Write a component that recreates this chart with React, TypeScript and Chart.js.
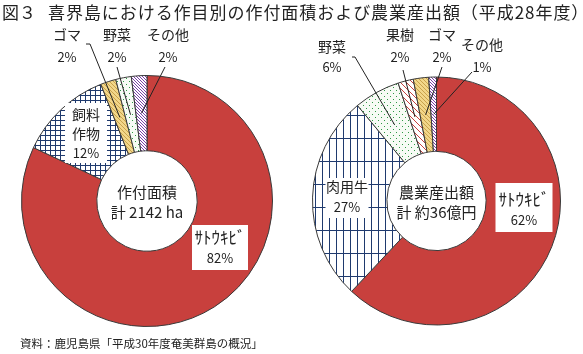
import React, { useEffect, useRef } from "react";
import { Chart, registerables } from "chart.js";
Chart.register(...registerables);

// ---------- data ----------
const TITLE_FIG = "図３";
const TITLE = "喜界島における作目別の作付面積および農業産出額（平成28年度）";
const SOURCE = "資料：鹿児島県「平成30年度奄美群島の概況」";

const areaCategories = ["ｻﾄｳｷﾋﾞ", "飼料作物", "ゴマ", "野菜", "その他"];
const areaLabelLines = [["ｻﾄｳｷﾋﾞ"], ["飼料", "作物"], ["ゴマ"], ["野菜"], ["その他"]];
const areaValues = [82, 12, 2, 2, 2];
const areaCenterText = ["作付面積", "計 2142 ha"];

const outputCategories = ["ｻﾄｳｷﾋﾞ", "肉用牛", "野菜", "果樹", "ゴマ", "その他"];
const outputLabelLines = [["ｻﾄｳｷﾋﾞ"], ["肉用牛"], ["野菜"], ["果樹"], ["ゴマ"], ["その他"]];
const outputValues = [62, 27, 6, 2, 2, 1];
const outputCenterText = ["農業産出額", "計 約36億円"];

// ---------- styles ----------
const FONT = "'Noto Sans CJK JP', 'Noto Sans', sans-serif";
const areaPatterns = ["red", "grid", "yellow", "dots", "purple"];
const outputPatterns = ["red", "vgrid", "dots", "redstripe", "yellow", "purple"];

type LabelStyle = {
  dx: number; dy: number; lh: number; box?: { w: number; h: number; top: number };
  leader?: { fx: number; fy: number; tx?: number };
};

// offsets relative to doughnut centre
const areaLabelStyle: LabelStyle[] = [
  { dx: 73, dy: 37, lh: 20, box: { w: 56, h: 45, top: -13 } },
  { dx: -61, dy: -86, lh: 19, box: { w: 42, h: 60, top: -12 } },
  { dx: -80, dy: -166, lh: 22, leader: { fx: -61, fy: -157, tx: -57 } },
  { dx: -30, dy: -166, lh: 22, leader: { fx: -30, fy: -134 } },
  { dx: 21, dy: -166, lh: 22, leader: { fx: 18, fy: -134 } },
];
const outputLabelStyle: LabelStyle[] = [
  { dx: 87.5, dy: -1, lh: 20, box: { w: 57, h: 49, top: -17 } },
  { dx: -89.5, dy: -14, lh: 20, box: { w: 43, h: 40, top: -9 } },
  { dx: -104.5, dy: -154, lh: 20, leader: { fx: -84.5, fy: -144, tx: -81.5 } },
  { dx: -36.5, dy: -166, lh: 22, leader: { fx: -33.5, fy: -131 } },
  { dx: 5.5, dy: -166, lh: 22, leader: { fx: 5.5, fy: -134 } },
  { dx: 45.5, dy: -156, lh: 22, leader: { fx: 35.5, fy: -129 } },
];

function makePattern(kind: string): CanvasPattern | string {
  if (kind === "red") return "#c8403d";
  const c = document.createElement("canvas");
  const ctx = c.getContext("2d")!;
  const setup = (w: number, h: number, bg: string) => {
    c.width = w; c.height = h;
    ctx.fillStyle = bg; ctx.fillRect(0, 0, w, h);
  };
  const diag = (s: number, col: string) => {
    ctx.fillStyle = col;
    for (let i = 0; i < s; i++) ctx.fillRect(i, i, 1, 1);
  };
  if (kind === "grid") {
    setup(5, 5, "#ffffff");
    ctx.fillStyle = "#1f3a6e";
    ctx.fillRect(0, 0, 5, 1); ctx.fillRect(0, 0, 1, 5);
  } else if (kind === "vgrid") {
    setup(7, 23, "#ffffff");
    ctx.fillStyle = "#1f3a6e";
    ctx.fillRect(0, 0, 1, 23); ctx.fillRect(0, 0, 7, 1);
  } else if (kind === "dots") {
    setup(6, 6, "#f7fbf5");
    ctx.fillStyle = "#2f9a45";
    ctx.fillRect(0, 0, 1, 1); ctx.fillRect(3, 3, 1, 1);
  } else if (kind === "yellow") {
    setup(4, 4, "#f2d78a");
    diag(4, "#c9a24c");
  } else if (kind === "redstripe") {
    setup(6, 6, "#ffffff");
    diag(6, "#c8403d");
  } else if (kind === "purple") {
    setup(3, 3, "#ffffff");
    diag(3, "#7a3fa8");
  }
  return ctx.createPattern(c, "repeat")!;
}

function labelPlugin(lines: string[][], values: number[], styles: LabelStyle[], center: string[]) {
  return {
    id: "labels",
    afterDatasetsDraw(chart: any) {
      const ctx: any = chart.ctx;
      const meta = chart.getDatasetMeta(0);
      const cx = meta.data[0].x;
      const cy = meta.data[0].y;
      ctx.save();
      ctx.textAlign = "center";
      ctx.textBaseline = "middle";
      ctx.fillStyle = "#222";
      // centre text
      ctx.font = `15px ${FONT}`;
      ctx.fillText(center[0], cx, cy - 9);
      ctx.fillText(center[1], cx, cy + 11);
      // slice labels
      styles.forEach((st, i) => {
        const arc = meta.data[i];
        const x = cx + st.dx;
        const y = cy + st.dy;
        const texts = [...lines[i], `${values[i]}%`];
        if (st.box) {
          ctx.fillStyle = "#fff";
          ctx.fillRect(x - st.box.w / 2, y + st.box.top, st.box.w, st.box.h);
        }
        if (st.leader) {
          const p = arc.getCenterPoint(true);
          ctx.strokeStyle = "#222";
          ctx.lineWidth = 1;
          ctx.beginPath();
          ctx.moveTo(cx + st.leader.fx, cy + st.leader.fy);
          if (st.leader.tx !== undefined) ctx.lineTo(cx + st.leader.tx, cy + st.leader.fy);
          ctx.lineTo(p.x, p.y);
          ctx.stroke();
        }
        ctx.fillStyle = "#222";
        texts.forEach((t, k) => {
          const isPct = k === texts.length - 1;
          const halfKana = /[\uFF61-\uFF9F]/.test(t);
          ctx.font = `${isPct ? 13 : halfKana ? 17 : 14}px ${FONT}`;
          ctx.fillText(t, x, y + k * st.lh);
        });
      });
      ctx.restore();
    },
  };
}

function buildChart(
  canvas: HTMLCanvasElement, labels: string[], values: number[], patterns: string[],
  padding: { left: number; right: number; top: number; bottom: number },
  lines: string[][], styles: LabelStyle[], center: string[]
) {
  return new Chart(canvas, {
    type: "doughnut",
    data: {
      labels,
      datasets: [{
        data: values,
        backgroundColor: patterns.map(makePattern) as any,
        borderColor: "#3a3a3a",
        borderWidth: 1,
      }],
    },
    options: {
      responsive: false,
      animation: false,
      events: [],
      cutout: "40%",
      layout: { padding },
      plugins: { legend: { display: false }, tooltip: { enabled: false } },
    },
    plugins: [labelPlugin(lines, values, styles, center) as any],
  });
}

export default function App() {
  const leftRef = useRef<HTMLCanvasElement>(null);
  const rightRef = useRef<HTMLCanvasElement>(null);
  useEffect(() => {
    const c1 = buildChart(leftRef.current!, areaCategories, areaValues, areaPatterns,
      { left: 21, right: 310, top: 75, bottom: 27 }, areaLabelLines, areaLabelStyle, areaCenterText);
    const c2 = buildChart(rightRef.current!, outputCategories, outputValues, outputPatterns,
      { left: 312, right: 22, top: 75, bottom: 27 }, outputLabelLines, outputLabelStyle, outputCenterText);
    return () => { c1.destroy(); c2.destroy(); };
  }, []);
  return (
    <div style={{ position: "fixed", left: 0, top: 0, width: 583, height: 354, background: "#fff", overflow: "hidden", fontFamily: FONT, color: "#222" }}>
      <canvas ref={leftRef} width={583} height={354} style={{ position: "absolute", left: 0, top: 0 }} />
      <canvas ref={rightRef} width={583} height={354} style={{ position: "absolute", left: 0, top: 0 }} />
      <div style={{ position: "absolute", left: 2, top: 0, fontSize: 17, lineHeight: "24px", whiteSpace: "nowrap" }}>{TITLE_FIG}</div>
      <div style={{ position: "absolute", left: 48, top: 0, fontSize: 17, lineHeight: "24px", whiteSpace: "nowrap", letterSpacing: 0.95 }}>{TITLE}</div>
      <div style={{ position: "absolute", left: 20, top: 334, fontSize: 11.5, lineHeight: "18px", whiteSpace: "nowrap" }}>{SOURCE}</div>
    </div>
  );
}
